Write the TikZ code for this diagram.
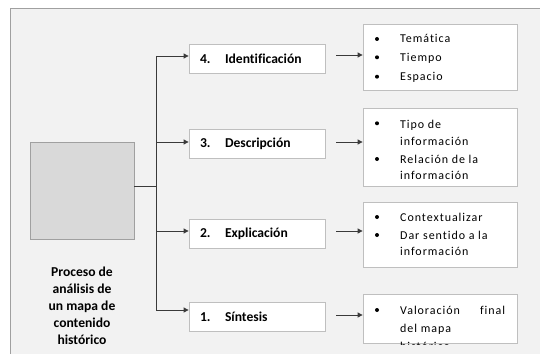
\documentclass[tikz,border=0pt]{standalone}
\usepackage{fontspec}
\setmainfont[Ligatures=NoCommon]{Carlito}
\newfontfamily\spacedfont[LetterSpace=8,Ligatures=NoCommon]{Carlito}
\usetikzlibrary{arrows.meta}
\definecolor{bgc}{HTML}{F2F2F2}
\definecolor{framec}{HTML}{A0A0A0}
\definecolor{boxc}{HTML}{BFBFBF}
\definecolor{srcfill}{HTML}{D9D9D9}
\definecolor{linec}{HTML}{3A3A3A}
\tikzset{
  stepbox/.style={draw=boxc, fill=white, line width=0.8pt, minimum width=136pt, minimum height=29pt, inner sep=0pt, font=\bfseries\fontsize{13.6}{15}\selectfont},
  rbox/.style={draw=boxc, fill=white, line width=0.8pt, minimum width=154pt, inner sep=0pt},
  item/.style={anchor=base west, inner sep=0pt, font=\spacedfont\fontsize{12}{14}\selectfont},
  conn/.style={draw=linec, line width=0.8pt, -{Triangle[length=5pt,width=5pt]}},
  trunk/.style={draw=linec, line width=0.8pt},
  bul/.style={fill=black}
}
\begin{document}
\begin{tikzpicture}[x=1pt,y=-1pt]
\useasboundingbox (0,0) rectangle (540,353);
\clip (0,0) rectangle (540,353);
\fill[white] (0,0) rectangle (540,353);
\draw[draw=framec, fill=bgc, line width=0.8pt] (10.5,8.5) rectangle (560,370);

% source box and label
\node[draw=framec, fill=srcfill, line width=0.8pt, minimum width=104pt, minimum height=97pt, inner sep=0pt] (src) at (82,190.5) {};
\node[align=center, inner sep=0pt, font=\bfseries\fontsize{13.6}{17}\selectfont] (lbl) at (82,306) {Proceso de\\análisis de\\un mapa de\\contenido\\histórico};

% step boxes
\node[stepbox] (b4) at (257,58.5) {\hbox to 114pt{\hbox to 25pt{4.\hfil}Identificación\hfil}};
\node[stepbox] (b3) at (257,143.5) {\hbox to 114pt{\hbox to 25pt{3.\hfil}Descripción\hfil}};
\node[stepbox] (b2) at (257,234) {\hbox to 114pt{\hbox to 25pt{2.\hfil}Explicación\hfil}};
\node[stepbox] (b1) at (257,317) {\hbox to 114pt{\hbox to 25pt{1.\hfil}Síntesis\hfil}};

% trunk
\coordinate (j) at (156,186);
\coordinate (c4) at (156,56);
\coordinate (c3) at (156,142);
\coordinate (c2) at (156,231);
\coordinate (c1) at (156,310);
\draw[trunk] (src.east |- j) -- (j);
\draw[trunk] (c4) -- (c1);
\draw[conn] (c4) -- (b4.west |- c4);
\draw[conn] (c3) -- (b3.west |- c3);
\draw[conn] (c2) -- (b2.west |- c2);
\draw[conn] (c1) -- (b1.west |- c1);

% right boxes
\node[rbox, minimum height=66pt] (r4) at (440,57) {};
\node[rbox, minimum height=78pt] (r3) at (440,147) {};
\node[rbox, minimum height=65pt] (r2) at (440,234.5) {};
\node[rbox, minimum height=49pt] (r1) at (440,318.5) {};

\coordinate (d4) at (336,55);
\coordinate (d3) at (336,142);
\coordinate (d2) at (336,231);
\coordinate (d1) at (336,315);
\draw[conn] (d4) -- (r4.west |- d4);
\draw[conn] (d3) -- (r3.west |- d3);
\draw[conn] (d2) -- (r2.west |- d2);
\draw[conn] (d1) -- (r1.west |- d1);

% box 4 items
\fill[bul] (377,39) circle (2);
\fill[bul] (377,57.3) circle (2);
\fill[bul] (377,76.7) circle (2);
\node[item] (t41) at (400,43) {Temática};
\node[item] (t42) at (400,61.3) {Tiempo};
\node[item] (t43) at (400,80.7) {Espacio};

% box 3 items
\fill[bul] (377,123.3) circle (2);
\fill[bul] (377,159) circle (2);
\node[item] (t31) at (400,128) {Tipo de};
\node[item] (t32) at (400,145) {información};
\node[item] (t33) at (400,163) {Relación de la};
\node[item] (t34) at (400,179.3) {información};

% box 2 items
\fill[bul] (377,217) circle (2);
\fill[bul] (377,235) circle (2);
\node[item] (t21) at (400,221) {Contextualizar};
\node[item] (t22) at (400,239) {Dar sentido a la};
\node[item] (t23) at (400,255) {información};

% box 1 items
\fill[bul] (377,310) circle (2);
\node[item] (t11) at (400,314) {\hbox to 105pt{Valoración\hfill final}};
\node[item] (t12) at (400,332) {del mapa};
\begin{scope}
\clip (362,330) rectangle (520,344.5);
\node[item] (t13) at (400,350) {histórico};
\end{scope}
\end{tikzpicture}
\end{document}
